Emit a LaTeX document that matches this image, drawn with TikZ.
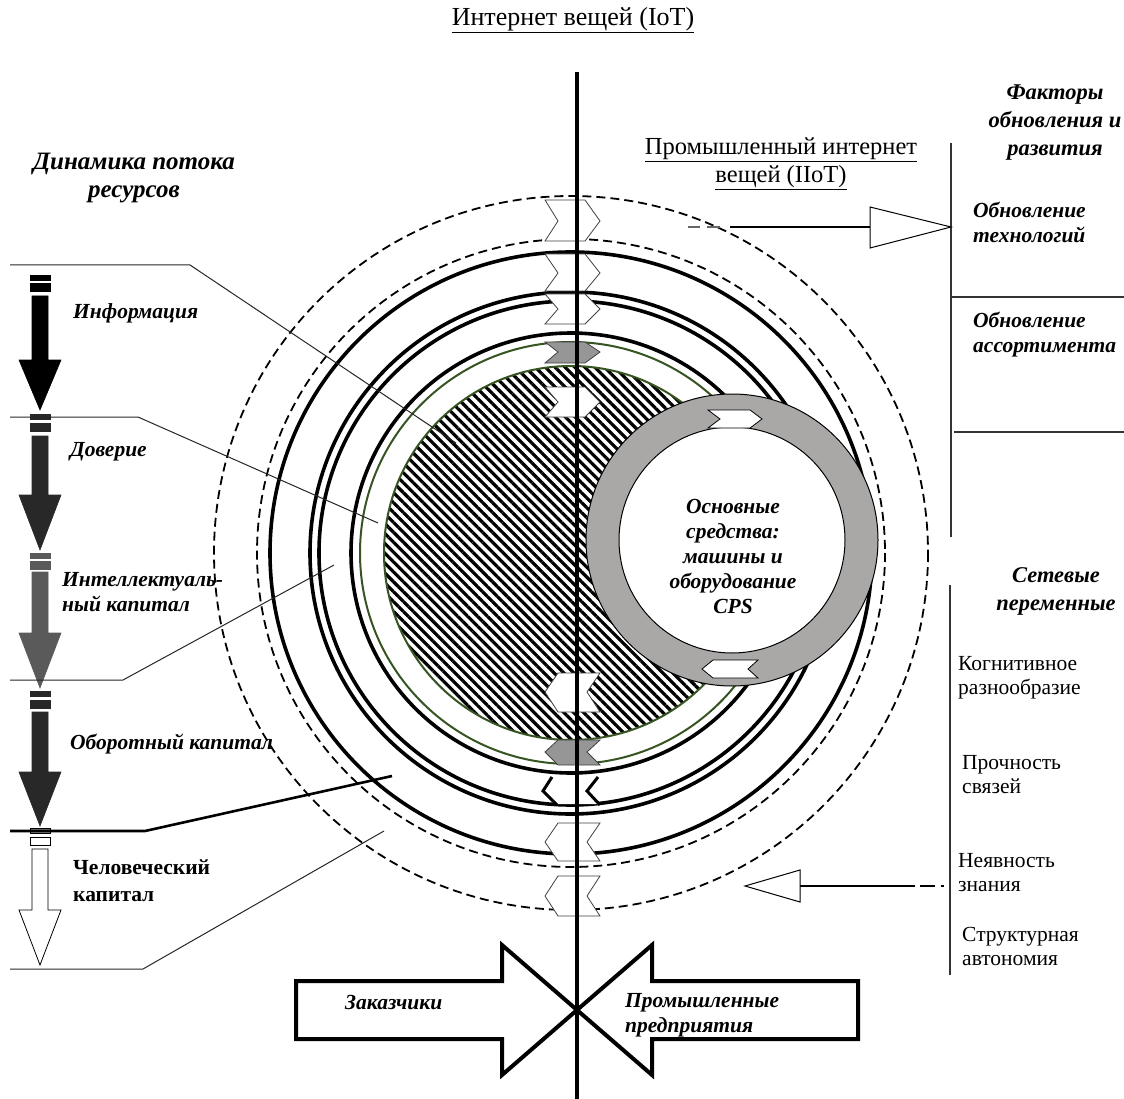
\documentclass[tikz,border=0pt]{standalone}
\usepackage{fontspec}
\setmainfont{Liberation Serif}
\usetikzlibrary{patterns.meta}
\definecolor{ringgrey}{RGB}{170,167,167}
\definecolor{olivegreen}{RGB}{55,85,35}
\definecolor{chevgrey}{RGB}{150,150,150}
\definecolor{dk}{RGB}{40,40,40}
\definecolor{md}{RGB}{90,90,90}
\newcommand\chevR[4][white]{\filldraw[fill=#1,draw=black!75,line width=0.8] (545,#2) -- (585,#2) -- (600,#3) -- (585,#4) -- (545,#4) -- (558,#3) -- cycle;}
\newcommand\chevL[4][white]{\filldraw[fill=#1,draw=black!75,line width=0.8] (558,#2) -- (600,#2) -- (587,#3) -- (600,#4) -- (558,#4) -- (545,#3) -- cycle;}
% left flow arrow: #1 colour, #2 draw colour, #3 bar1 top, #4 bar2 top, #5 shaft top, #6 head top, #7 tip
\newcommand\flowarrow[7]{%
  \filldraw[fill=#1,draw=#2,line width=0.6] (30,#3) rectangle (50,#3+5);
  \filldraw[fill=#1,draw=#2,line width=0.6] (30,#4) rectangle (50,#4+8);
  \filldraw[fill=#1,draw=#2,line width=0.6] (32,#5) -- (48,#5) -- (48,#6) -- (61,#6) -- (40,#7) -- (19,#6) -- (32,#6) -- cycle;}
\begin{document}
\begin{tikzpicture}[x=1pt,y=-1pt,
  bi/.style={font=\fontsize{21.5}{25}\selectfont\bfseries\itshape,inner sep=0pt,align=left},
  bih/.style={font=\fontsize{22.5}{28}\selectfont\bfseries\itshape,inner sep=0pt,align=center},
  rg/.style={font=\fontsize{21.5}{24}\selectfont,inner sep=0pt,align=left},
  thickc/.style={line width=3.6pt},
  dashc/.style={line width=1.8pt,dash pattern=on 9pt off 5pt},
  leader/.style={line width=1pt,draw=black!85},
  sep/.style={line width=1.1pt,draw=black!80}]
\useasboundingbox (0,0) rectangle (1124,1099);

% titles
\node[rg,font=\fontsize{26}{30}\selectfont] (iot) at (573,20) {\underline{Интернет вещей (IoT)}};
\node[rg,font=\fontsize{24.5}{28}\selectfont,align=center] (iiot) at (781,164) {\underline{Промышленный интернет}\\\underline{вещей (IIoT)}};

% circles
\coordinate (c) at (571,553);
\draw[dashc] (c) circle[radius=357];
\draw[dashc] (c) circle[radius=314];
\draw[thickc] (c) circle[radius=301];
\draw[thickc] (c) circle[radius=261];
\draw[thickc] (c) circle[radius=252];
\draw[thickc] (c) circle[radius=220];
\draw[olivegreen,line width=2pt] (c) circle[radius=211];
\fill[white] (c) circle[radius=187];
\fill[pattern={Lines[angle=-45,distance=7pt,line width=3.2pt]}] (c) circle[radius=187];
\draw[olivegreen,line width=2pt] (c) circle[radius=187];

% chevrons on the axis
\chevR{200}{221}{241}
\chevR{254}{273}{291}
\chevR{294}{309}{324}
\chevR[chevgrey]{342}{352}{363}
\chevR{387}{402}{417}
\chevL{673}{692}{712}
\chevL[chevgrey]{740}{752}{765}
\fill[white] (552,778) -- (598,778) -- (587,791) -- (600,804) -- (557,804) -- (543,791) -- cycle;
\draw[line width=3pt,line join=miter] (552,777) -- (543,791) -- (557,805);
\draw[line width=3pt,line join=miter] (598,777) -- (587,791) -- (600,805);
\chevL{823}{842}{861}
\chevL{876}{896}{916}

% CPS ring
\coordinate (r) at (732,540);
\filldraw[fill=ringgrey,draw=black,line width=1pt] (r) circle[radius=146];
\filldraw[fill=white,draw=black,line width=1pt] (r) circle[radius=113];
\filldraw[fill=white,draw=black,line width=0.8] (708,410) -- (750,410) -- (762,419) -- (750,428) -- (708,428) -- (720,419) -- cycle;
\filldraw[fill=white,draw=black,line width=0.8] (713,660) -- (758,660) -- (748,669) -- (758,678) -- (713,678) -- (702,669) -- cycle;
\node[bi,align=center] (cps) at (733,556) {Основные\\средства:\\машины и\\оборудование\\CPS};

% vertical axis
\draw[line width=4.5pt] (577,72) -- (577,1099);

% bottom arrows
\draw[line width=4pt,line join=miter,fill=white] (296,981) -- (502,981) -- (502,945) -- (577,1010) -- (502,1075) -- (502,1039) -- (296,1039) -- cycle;
\draw[line width=4pt,line join=miter,fill=white] (858,981) -- (652,981) -- (652,945) -- (577,1010) -- (652,1075) -- (652,1039) -- (858,1039) -- cycle;
\draw[line width=4.5pt] (577,940) -- (577,1099);
\node[bi,anchor=west] (cust) at (345,1003) {Заказчики};
\node[bi,anchor=west] (ent) at (625,1015) {Промышленные\\предприятия};

% left side
\node[bih,font=\fontsize{25}{28}\selectfont\bfseries\itshape] (dyn) at (134,178) {Динамика потока\\ресурсов};
\flowarrow{black}{black}{275}{283}{296}{360}{410}
\flowarrow{dk}{dk}{414}{423}{436}{495}{550}
\flowarrow{md}{md}{553}{561}{572}{633}{688}
\flowarrow{dk}{dk}{691}{700}{712}{772}{826}
\filldraw[fill=chevgrey,draw=black,line width=0.6] (30,828) rectangle (50,833);
\filldraw[fill=white,draw=black,line width=0.8] (30,837) rectangle (50,845);
\filldraw[fill=white,draw=black,line width=0.8] (32,849) -- (48,849) -- (48,910) -- (61,910) -- (40,965) -- (19,910) -- (32,910) -- cycle;

\node[bi,anchor=west] (info) at (73,313) {Информация};
\node[bi,anchor=west] (trust) at (70,452) {Доверие};
\node[bi,anchor=west] (intel) at (62,592) {Интеллектуаль-\\ный капитал};
\node[bi,anchor=west] (work) at (70,744) {Оборотный капитал};
\node[rg,font=\fontsize{21.5}{27}\selectfont\bfseries,anchor=west] (hum) at (73,881) {Человеческий\\капитал};

% leader lines
\coordinate (l1a) at (10,265); \coordinate (l1b) at (190,265); \coordinate (l1c) at (456,443);
\coordinate (l2a) at (10,417); \coordinate (l2b) at (138,417); \coordinate (l2c) at (378,523);
\coordinate (l3a) at (10,680); \coordinate (l3b) at (123,680); \coordinate (l3c) at (334,565);
\coordinate (l4a) at (10,831); \coordinate (l4b) at (145,831); \coordinate (l4c) at (392,776);
\coordinate (l5a) at (10,969); \coordinate (l5b) at (143,969); \coordinate (l5c) at (384,831);
\draw[leader] (l1a) -- (l1b) -- (l1c);
\draw[leader] (l2a) -- (l2b) -- (l2c);
\draw[leader] (l3a) -- (l3b) -- (l3c);
\draw[line width=2.6pt] (l4a) -- (l4b) -- (l4c);
\draw[leader] (l5a) -- (l5b) -- (l5c);

% right top: factors
\node[bih] (fac) at (1055,123) {Факторы\\обновления и\\развития};
\draw[sep] (951,143) -- (951,537);
\draw[sep] (951,297) -- (1124,297);
\draw[sep] (954,432) -- (1124,432);
\node[bi,anchor=west] (tech) at (973,222) {Обновление\\технологий};
\node[bi,anchor=west] (asrt) at (973,335) {Обновление\\ассортимента};
\coordinate (a1s) at (688,227);
\coordinate (a1t) at (951,227);
\draw[line width=1.2pt,draw=black!60] (a1s) -- ++(12,0) (707,227) -- (720,227);
\draw[line width=2pt] (730,227) -- (870,227);
\filldraw[fill=white,draw=black,line width=1pt] (870,207) -- (a1t) -- (870,248) -- cycle;

% right bottom: network variables
\node[bih] (net) at (1056,591) {Сетевые\\переменные};
\draw[sep] (950,585) -- (950,975);
\node[rg,anchor=west] (cog) at (958,678) {Когнитивное\\разнообразие};
\node[rg,anchor=west] (str) at (962,775) {Прочность\\связей};
\node[rg,anchor=west] (tac) at (958,873) {Неявность\\знания};
\node[rg,anchor=west] (aut) at (962,946) {Структурная\\автономия};
\coordinate (a2t) at (745,886);
\draw[line width=2pt] (800,886) -- (915,886);
\draw[line width=1.2pt] (920,886) -- (935,886) (941,886) -- (944,886);
\filldraw[fill=white,draw=black,line width=1pt] (800,870) -- (a2t) -- (800,902) -- cycle;
\end{tikzpicture}
\end{document}
